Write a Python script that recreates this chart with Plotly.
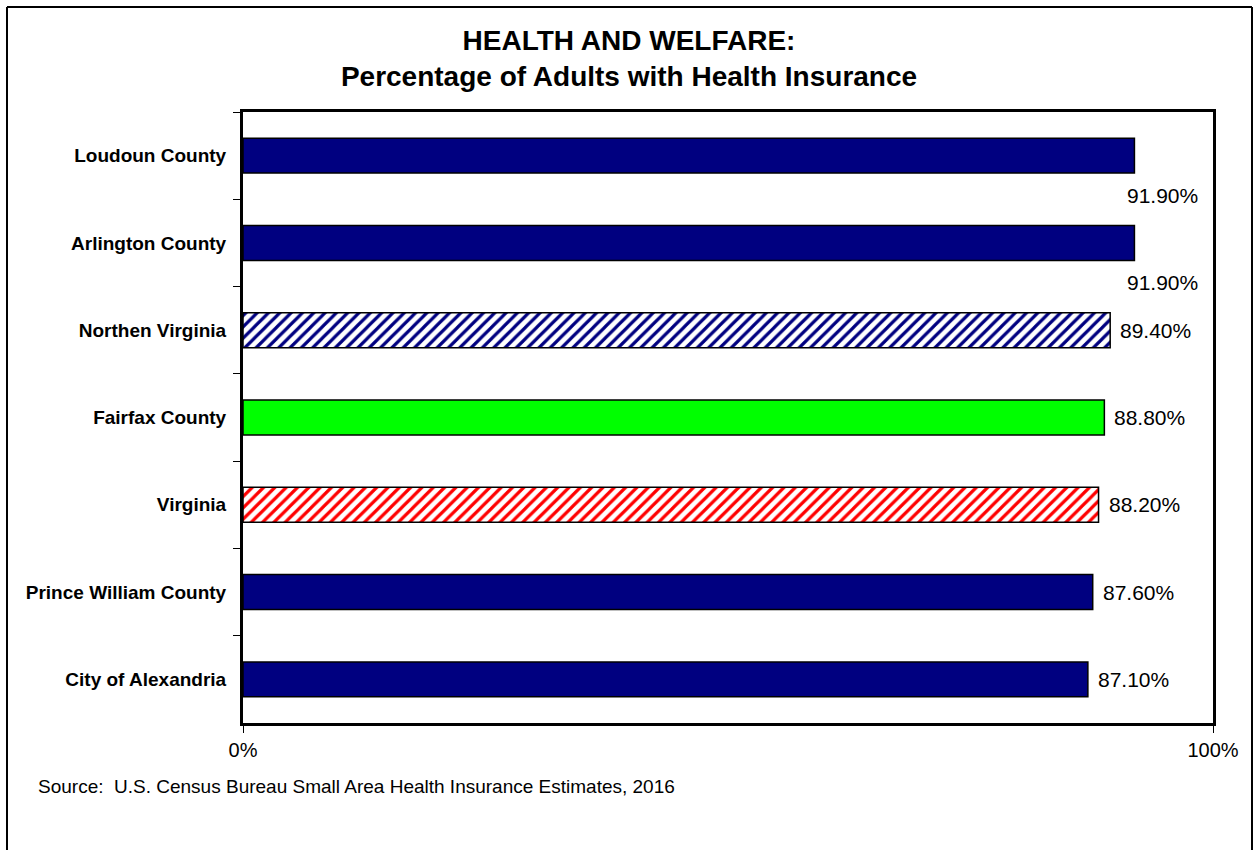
import plotly.graph_objects as go

# data (top to bottom as shown)
areas = ["Loudoun County", "Arlington County", "Northen Virginia", "Fairfax County",
         "Virginia", "Prince William County", "City of Alexandria"]
pct_insured = [0.919, 0.919, 0.894, 0.888, 0.882, 0.876, 0.871]
x_ticks = [0, 1]
x_tick_text = ["0%", "100%"]

NAVY = "#000080"
styles = {
    "Northen Virginia": dict(color="white", pattern=dict(shape="/", fgcolor=NAVY, bgcolor="white",
                                                          fgopacity=1, size=8, solidity=0.4)),
    "Virginia": dict(color="white", pattern=dict(shape="/", fgcolor="#FF0000", bgcolor="white",
                                                  fgopacity=1, size=8, solidity=0.4)),
    "Fairfax County": dict(color="#00FF00"),
}

FONT = "Liberation Sans, Arial, sans-serif"

fig = go.Figure()
for name, v in zip(areas, pct_insured):
    st = styles.get(name, dict(color=NAVY))
    fig.add_trace(go.Bar(
        x=[v], y=[name], orientation="h", width=0.4,
        marker=dict(line=dict(color="black", width=1.5), **st),
        showlegend=False, hoverinfo="x+y",
    ))

# value labels: long bars get their label pushed below the bar end (as Excel did)
for name, v in zip(areas, pct_insured):
    below = v > 0.9
    fig.add_annotation(
        x=v, y=name, xref="x", yref="y",
        text=f"{v * 100:.2f}%", showarrow=False,
        xanchor="center" if below else "left",
        xshift=28 if below else 8,
        yshift=-40 if below else 0,
        font=dict(family=FONT, size=21, color="black"),
    )

fig.add_annotation(
    text="Source:  U.S. Census Bureau Small Area Health Insurance Estimates, 2016",
    xref="paper", yref="paper", x=-0.2134, y=-0.1047,
    xanchor="left", yanchor="middle", showarrow=False,
    font=dict(family=FONT, size=19, color="black"),
)

# outer chart border: left, top, right (bottom edge runs off the page)
bx0, bx1, by0, by1 = -0.2433, 1.0402, -0.3, 1.1718
for x0, y0, x1, y1 in [(bx0, by0, bx0, by1), (bx0, by1, bx1, by1), (bx1, by1, bx1, by0)]:
    fig.add_shape(type="line", xref="paper", yref="paper",
                  x0=x0, y0=y0, x1=x1, y1=y1,
                  line=dict(color="black", width=2))

fig.update_layout(
    width=1258, height=850,
    margin=dict(l=243, r=45, t=112, b=127),
    paper_bgcolor="white", plot_bgcolor="white",
    title=dict(
        text="HEALTH AND WELFARE:<br>Percentage of Adults with Health Insurance",
        x=0.5, xref="container", xanchor="center",
        y=1 - 50 / 850, yanchor="top",
        font=dict(family=FONT, size=28, color="black", weight="bold"),
    ),
)
fig.update_xaxes(
    range=[0, 1], tickvals=x_ticks, ticktext=x_tick_text,
    showgrid=False, zeroline=False,
    showline=True, linecolor="black", linewidth=3, mirror=True,
    ticks="outside", ticklen=7, tickcolor="black", tickwidth=1,
    tickfont=dict(family=FONT, size=20, color="black"),
)
fig.update_yaxes(
    categoryorder="array", categoryarray=areas, range=[6.5, -0.5],
    showgrid=False, zeroline=False,
    showline=True, linecolor="black", linewidth=3, mirror=True,
    ticks="outside", ticklen=7, tickcolor="black", tickwidth=1, tickson="boundaries",
    ticklabelstandoff=10,
    tickfont=dict(family=FONT, size=19, color="black", weight="bold"),
)

# drop the default body margin so the figure sits at the page origin
fig.write_html("out.html", config={"displayModeBar": False},
               post_script="document.body.style.margin='0';document.body.style.overflow='hidden';")
